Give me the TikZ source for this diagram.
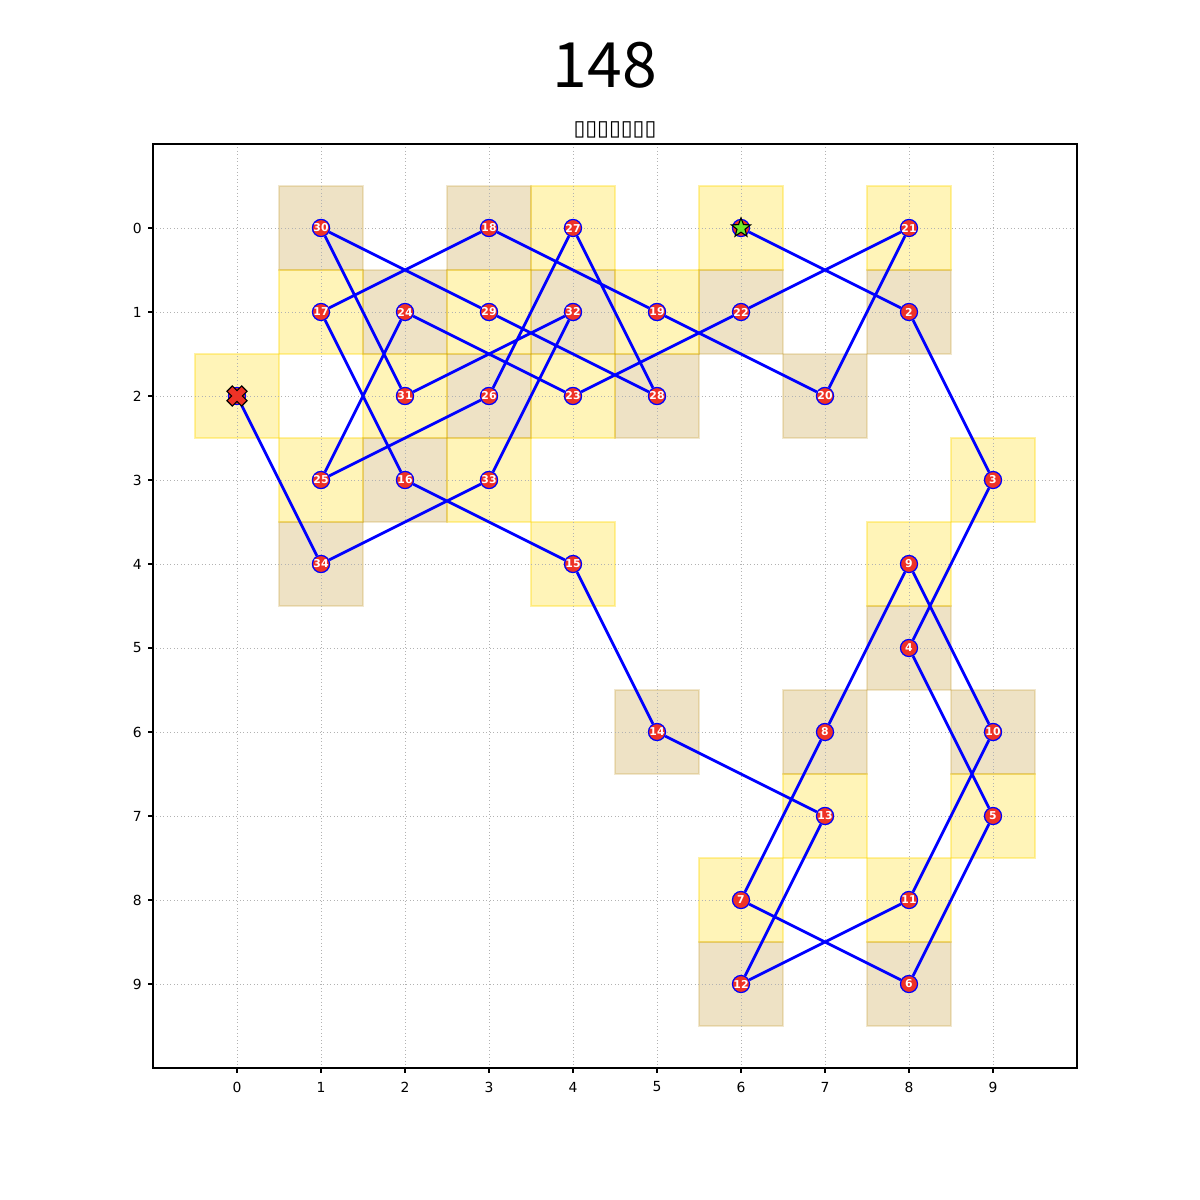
\documentclass[tikz,border=0pt]{standalone}
\usepackage{fontspec}
\setmainfont{DejaVu Sans}
\newfontfamily\titlefont{Noto Sans CJK SC}
\usetikzlibrary{shapes.geometric}
\definecolor{nodered}{RGB}{238,50,38}
\definecolor{cellyel}{RGB}{255,215,0}
\definecolor{celltan}{RGB}{184,134,11}
\definecolor{stargreen}{RGB}{110,232,40}
\begin{document}
\begin{tikzpicture}[x=60.48pt,y=-60.48pt,
  pt/.style={circle,fill=nodered,draw=blue,line width=0.9pt,minimum size=12.3pt,inner sep=0pt,
     text=white,font=\bfseries\fontsize{7.8}{7.8}\selectfont},
  yelcell/.style={fill=cellyel,fill opacity=0.28,draw=cellyel,draw opacity=0.35,line width=0.8pt},
  tancell/.style={fill=celltan,fill opacity=0.24,draw=celltan,draw opacity=0.2,line width=0.8pt},
  gridline/.style={gray!60,dotted,line width=0.5pt},
  pathline/.style={blue,line width=2pt},
  ticklab/.style={font=\fontsize{10}{10}\selectfont,inner sep=0pt}]
\useasboundingbox (-2.82143,-2.71429) rectangle (11.46429,11.57143);
% cells
\foreach \cx/\cy in {6/0,9/3,9/7,6/8,8/4,8/8,7/7,4/4,1/1,5/1,8/0,4/2,1/3,4/0,3/1,2/2,3/3,0/2}
  \draw[yelcell] (\cx-0.5,\cy-0.5) rectangle (\cx+0.5,\cy+0.5);
\foreach \cx/\cy in {8/1,8/5,8/9,7/6,9/6,6/9,5/6,2/3,3/0,7/2,6/1,2/1,3/2,5/2,1/0,4/1,1/4}
  \draw[tancell] (\cx-0.5,\cy-0.5) rectangle (\cx+0.5,\cy+0.5);
% grid
\foreach \i in {0,...,9} {
  \draw[gridline] (\i,-1) -- (\i,10);
  \draw[gridline] (-1,\i) -- (10,\i);
}
% frame and ticks
\draw[black,line width=0.8pt] (-1,-1) rectangle (10,10);
\foreach \i in {0,...,9} {
  \draw[black,line width=0.8pt] (\i,10) -- (\i,10.058);
  \draw[black,line width=0.8pt] (-1,\i) -- (-1.058,\i);
  \node[ticklab] (xt\i) at (\i,10.226) {\i};
  \node[ticklab,anchor=east] (yt\i) at (-1.13,\i) {\i};
}
% titles
\node[font=\titlefont\fontsize{45}{45}\selectfont,inner sep=0pt] (title) at (4.381,-1.94) {148};
\node[font=\fontsize{15.5}{15.5}\selectfont,inner sep=0pt] (subtitle) at (4.5,-1.17) {▯▯▯▯▯▯▯};
% nodes
\node[pt] (n1) at (6,0) {};
\node[pt] (n2) at (8,1) {2};
\node[pt] (n3) at (9,3) {3};
\node[pt] (n4) at (8,5) {4};
\node[pt] (n5) at (9,7) {5};
\node[pt] (n6) at (8,9) {6};
\node[pt] (n7) at (6,8) {7};
\node[pt] (n8) at (7,6) {8};
\node[pt] (n9) at (8,4) {9};
\node[pt] (n10) at (9,6) {10};
\node[pt] (n11) at (8,8) {11};
\node[pt] (n12) at (6,9) {12};
\node[pt] (n13) at (7,7) {13};
\node[pt] (n14) at (5,6) {14};
\node[pt] (n15) at (4,4) {15};
\node[pt] (n16) at (2,3) {16};
\node[pt] (n17) at (1,1) {17};
\node[pt] (n18) at (3,0) {18};
\node[pt] (n19) at (5,1) {19};
\node[pt] (n20) at (7,2) {20};
\node[pt] (n21) at (8,0) {21};
\node[pt] (n22) at (6,1) {22};
\node[pt] (n23) at (4,2) {23};
\node[pt] (n24) at (2,1) {24};
\node[pt] (n25) at (1,3) {25};
\node[pt] (n26) at (3,2) {26};
\node[pt] (n27) at (4,0) {27};
\node[pt] (n28) at (5,2) {28};
\node[pt] (n29) at (3,1) {29};
\node[pt] (n30) at (1,0) {30};
\node[pt] (n31) at (2,2) {31};
\node[pt] (n32) at (4,1) {32};
\node[pt] (n33) at (3,3) {33};
\node[pt] (n34) at (1,4) {34};
\node[pt] (n35) at (0,2) {};
% path
\draw[pathline] (n1) -- (n2) -- (n3) -- (n4) -- (n5) -- (n6) -- (n7) -- (n8) -- (n9) -- (n10)
  -- (n11) -- (n12) -- (n13) -- (n14) -- (n15) -- (n16) -- (n17) -- (n18) -- (n19) -- (n20)
  -- (n21) -- (n22) -- (n23) -- (n24) -- (n25) -- (n26) -- (n27) -- (n28) -- (n29) -- (n30)
  -- (n31) -- (n32) -- (n33) -- (n34) -- (n35);
% start star
\node[star,star points=5,star point ratio=2.4,fill=stargreen,draw=black,line width=0.8pt,
  minimum size=14.5pt,inner sep=0pt] (startmark) at (n1) {};
% end X
\begin{scope}[shift={(n35.center)},rotate=45]
\draw[fill=nodered,draw=black,line width=0.8pt]
  (2.7pt,2.7pt) -- (7.5pt,2.7pt) -- (7.5pt,-2.7pt) -- (2.7pt,-2.7pt) -- (2.7pt,-7.5pt)
  -- (-2.7pt,-7.5pt) -- (-2.7pt,-2.7pt) -- (-7.5pt,-2.7pt) -- (-7.5pt,2.7pt) -- (-2.7pt,2.7pt)
  -- (-2.7pt,7.5pt) -- (2.7pt,7.5pt) -- cycle;
\end{scope}
\end{tikzpicture}
\end{document}
